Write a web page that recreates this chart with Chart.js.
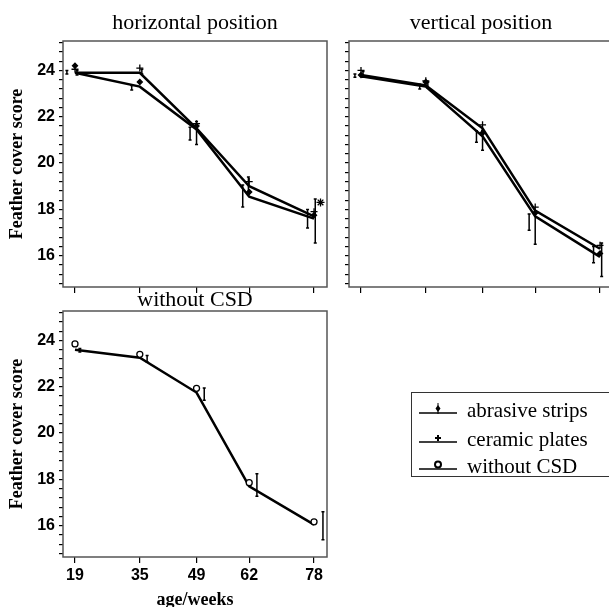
<!DOCTYPE html>
<html><head><meta charset="utf-8">
<script src="https://cdn.jsdelivr.net/npm/chart.js@4.4.1/dist/chart.umd.min.js"></script>
<style>
html,body{margin:0;padding:0;background:#fff;}
body{width:609px;height:607px;overflow:hidden;position:relative;}
canvas{position:absolute;left:0;top:0;}
#legend{position:absolute;left:411px;top:392px;width:230px;height:85px;border:1px solid #333;box-sizing:border-box;font-family:"Liberation Serif",serif;font-size:21px;color:#000;}
#legend .row{position:absolute;left:0;width:230px;height:28px;}
#legend svg{position:absolute;left:0;top:0;}
#legend span{position:absolute;left:55px;top:6px;line-height:22px;white-space:nowrap;}
</style></head><body>
<canvas id="c1" width="609" height="607"></canvas>
<canvas id="c2" width="640" height="607"></canvas>
<canvas id="c3" width="609" height="607"></canvas>
<div id="legend"></div>
<script>
// ---------- data ----------
const ages = [19, 35, 49, 62, 78];
const yTickLabels = [16, 18, 20, 22, 24];
const seriesNames = ['abrasive strips', 'ceramic plates', 'without CSD'];
const panelTitles = ['horizontal position', 'vertical position', 'without CSD'];

// horizontal position
const hAbrasiveMean = [23.9, 23.3, 21.45, 18.55, 17.6];
const hAbrasiveMark = [24.2, 23.5, 21.6, 18.75, 17.75];
const hAbrasiveLow  = [23.85, 23.15, 21.0, 18.1, 17.2];
const hAbrasiveHigh = [24.0, 23.35, 21.55, 19.05, 18.0];
const hAbrasiveErrAge = [17, 33, 47.4, 60.4, 76.4];
const hCeramicMean = [23.9, 23.9, 21.5, 19.0, 17.7];
const hCeramicMark = [24.05, 24.1, 21.7, 19.2, 17.9];
const hCeramicLow  = [23.8, 23.85, 20.8, 18.75, 16.55];
const hCeramicHigh = [24.0, 24.05, 21.8, 19.4, 18.45];
const hCeramicErrAge = [19.5, 35.5, 49, 61.8, 78.3];
const hStarAge = [79.6];
const hStarVal = [18.3];

// vertical position
const vAbrasiveMean = [23.75, 23.3, 21.15, 17.7, 15.95];
const vAbrasiveMark = [23.8, 23.5, 21.3, 17.85, 16.1];
const vAbrasiveLow  = [23.7, 23.2, 20.9, 17.1, 15.7];
const vAbrasiveHigh = [23.85, 23.4, 21.4, 17.8, 16.4];
const vAbrasiveErrAge = [17.5, 33.5, 47.5, 60.5, 76.4];
const vCeramicMean = [23.8, 23.35, 21.5, 17.95, 16.3];
const vCeramicMark = [24.0, 23.55, 21.65, 18.1, 16.45];
const vCeramicLow  = [23.7, 23.25, 20.55, 16.5, 15.1];
const vCeramicHigh = [23.95, 23.5, 21.42, 17.9, 16.55];
const vCeramicErrAge = [19.5, 35.5, 49, 62, 78.4];

// without CSD
const wMean = [23.6, 23.25, 21.75, 17.7, 16.05];
const wMark = [23.85, 23.4, 21.93, 17.86, 16.17];
const wLow  = [23.5, 23.07, 21.42, 17.27, 15.4];
const wHigh = [23.65, 23.35, 21.95, 18.24, 16.6];
const wErrAge = [20.2, 36.8, 50.9, 63.9, 80.2];

// ---------- helpers ----------
const pts = (xs, ys) => xs.map((a, i) => ({x: a, y: ys[i]}));
function lineDs(label, vals) {
  return {type: 'line', label, data: pts(ages, vals), borderColor: '#000', borderWidth: 2.5,
    pointRadius: 0, tension: 0, fill: false, order: 2};
}
function markDs(label, vals, style, r, fill, xs) {
  return {type: 'scatter', label, data: pts(xs || ages, vals), showLine: false, pointStyle: style,
    pointRadius: r, borderColor: '#000', backgroundColor: fill, borderWidth: 1.3, order: 1};
}

const boxErr = {
  id: 'boxErr',
  afterDatasetsDraw(chart, args, opts) {
    const {ctx, scales: {x, y}} = chart;
    ctx.save();
    ctx.strokeStyle = '#000';
    ctx.lineWidth = 1.5;
    (opts.bars || []).forEach(b => {
      b.at.forEach((age, i) => {
        const px = x.getPixelForValue(age);
        const p1 = y.getPixelForValue(b.low[i]);
        const p2 = y.getPixelForValue(b.high[i]);
        ctx.beginPath();
        ctx.moveTo(px, p1); ctx.lineTo(px, p2);
        ctx.moveTo(px - 1.5, p1); ctx.lineTo(px + 1.5, p1);
        ctx.moveTo(px - 1.5, p2); ctx.lineTo(px + 1.5, p2);
        ctx.stroke();
      });
    });
    ctx.restore();
  },
  afterDraw(chart) {
    const {ctx, chartArea: a} = chart;
    ctx.save();
    ctx.strokeStyle = '#555';
    ctx.lineWidth = 1.5;
    ctx.strokeRect(a.left, a.top, a.right - a.left, a.bottom - a.top);
    ctx.restore();
  }
};

function makeChart(id, cfg) {
  const yLabelCb = v => {
    const r = Math.round(v);
    return (cfg.yLabels && Math.abs(v - r) < 1e-6 && yTickLabels.includes(r)) ? String(r) : '';
  };
  return new Chart(document.getElementById(id), {
    data: {datasets: cfg.datasets},
    plugins: [boxErr],
    options: {
      responsive: false, animation: false,
      layout: {padding: cfg.padding},
      plugins: {
        legend: {display: false}, tooltip: {enabled: false},
        title: {display: true, text: cfg.title, fullSize: false, color: '#000',
          font: {family: 'Liberation Serif', size: 22, weight: 'normal', lineHeight: 1.2},
          padding: cfg.titlePad},
        boxErr: {bars: cfg.bars}
      },
      scales: {
        x: {type: 'linear', min: 16.04, max: 81.2,
          afterBuildTicks: s => { s.ticks = ages.map(v => ({value: v})); },
          afterFit: s => { s.height = cfg.xH; },
          ticks: {autoSkip: false, maxRotation: 0, padding: 3, color: '#000',
            font: {family: 'Liberation Sans', size: 16, weight: 'bold'},
            callback: v => cfg.xLabels ? String(v) : ''},
          grid: {drawOnChartArea: false, drawTicks: true, tickLength: 6, color: '#000', lineWidth: 1.2},
          border: {display: false},
          title: {display: !!cfg.xTitle, text: cfg.xTitle || '', color: '#000',
            font: {family: 'Liberation Serif', size: 18, weight: 'bold', lineHeight: 1},
            padding: {top: 0, bottom: -2}}
        },
        y: {type: 'linear', min: 14.65, max: 25.27,
          afterFit: s => { s.width = cfg.yW; },
          ticks: {stepSize: 0.4, includeBounds: false, autoSkip: false, padding: 4, color: '#000',
            font: {family: 'Liberation Sans', size: 16, weight: 'bold'}, callback: yLabelCb},
          grid: {drawOnChartArea: false, drawTicks: true, tickLength: 4, color: '#000', lineWidth: 1.2},
          border: {display: false},
          title: {display: !!cfg.yTitle, text: cfg.yTitle || '', color: '#000',
            font: {family: 'Liberation Serif', size: 18, weight: 'bold', lineHeight: 1.2},
            padding: {top: 7, bottom: 0}}
        }
      }
    }
  });
}

// horizontal position
makeChart('c1', {
  title: panelTitles[0], titlePad: {top: 10, bottom: 4.6},
  padding: {left: 0, right: 282, top: 0, bottom: 310}, xH: 10, yW: 63,
  yLabels: true, xLabels: false, yTitle: 'Feather cover score',
  datasets: [
    lineDs(seriesNames[0], hAbrasiveMean), lineDs(seriesNames[1], hCeramicMean),
    markDs(seriesNames[0], hAbrasiveMark, 'rectRot', 2.5, '#000'),
    markDs(seriesNames[1], hCeramicMark, 'cross', 3.5, '#000'),
    markDs('*', hStarVal, 'star', 4, '#666', hStarAge)
  ],
  bars: [{at: hAbrasiveErrAge, low: hAbrasiveLow, high: hAbrasiveHigh},
         {at: hCeramicErrAge, low: hCeramicLow, high: hCeramicHigh}]
});

// vertical position
makeChart('c2', {
  title: panelTitles[1], titlePad: {top: 10, bottom: 4.6},
  padding: {left: 329, right: 27, top: 0, bottom: 310}, xH: 10, yW: 20,
  yLabels: false, xLabels: false,
  datasets: [
    lineDs(seriesNames[0], vAbrasiveMean), lineDs(seriesNames[1], vCeramicMean),
    markDs(seriesNames[0], vAbrasiveMark, 'rectRot', 2.5, '#000'),
    markDs(seriesNames[1], vCeramicMark, 'cross', 3.5, '#000')
  ],
  bars: [{at: vAbrasiveErrAge, low: vAbrasiveLow, high: vAbrasiveHigh},
         {at: vCeramicErrAge, low: vCeramicLow, high: vCeramicHigh}]
});

// without CSD
makeChart('c3', {
  title: panelTitles[2], titlePad: {top: 0, bottom: -2},
  padding: {left: 0, right: 282, top: 286.6, bottom: 0}, xH: 50, yW: 63,
  yLabels: true, xLabels: true, yTitle: 'Feather cover score', xTitle: 'age/weeks',
  datasets: [
    lineDs(seriesNames[2], wMean),
    markDs(seriesNames[2], wMark, 'circle', 3, '#fff')
  ],
  bars: [{at: wErrAge, low: wLow, high: wHigh}]
});

// legend (HTML)
const legendMarks = [
  '<path d="M26 12 L28.5 15.5 L26 19 L23.5 15.5 Z" fill="#000"/><line x1="26" y1="10" x2="26" y2="21" stroke="#000" stroke-width="1"/>',
  '<line x1="23" y1="16" x2="29" y2="16" stroke="#000" stroke-width="2"/><line x1="26" y1="13" x2="26" y2="19" stroke="#000" stroke-width="2"/>',
  '<circle cx="26" cy="15.5" r="3" fill="#fff" stroke="#000" stroke-width="2"/>'
];
const rowTops = [0, 29, 56];
const leg = document.getElementById('legend');
seriesNames.forEach((name, i) => {
  const row = document.createElement('div');
  row.className = 'row';
  row.style.top = rowTops[i] + 'px';
  row.innerHTML = '<svg width="50" height="26"><line x1="7" y1="20" x2="45" y2="20" stroke="#000" stroke-width="1.5"/>' +
    legendMarks[i] + '</svg><span>' + name + '</span>';
  leg.appendChild(row);
});
</script>
</body></html>
